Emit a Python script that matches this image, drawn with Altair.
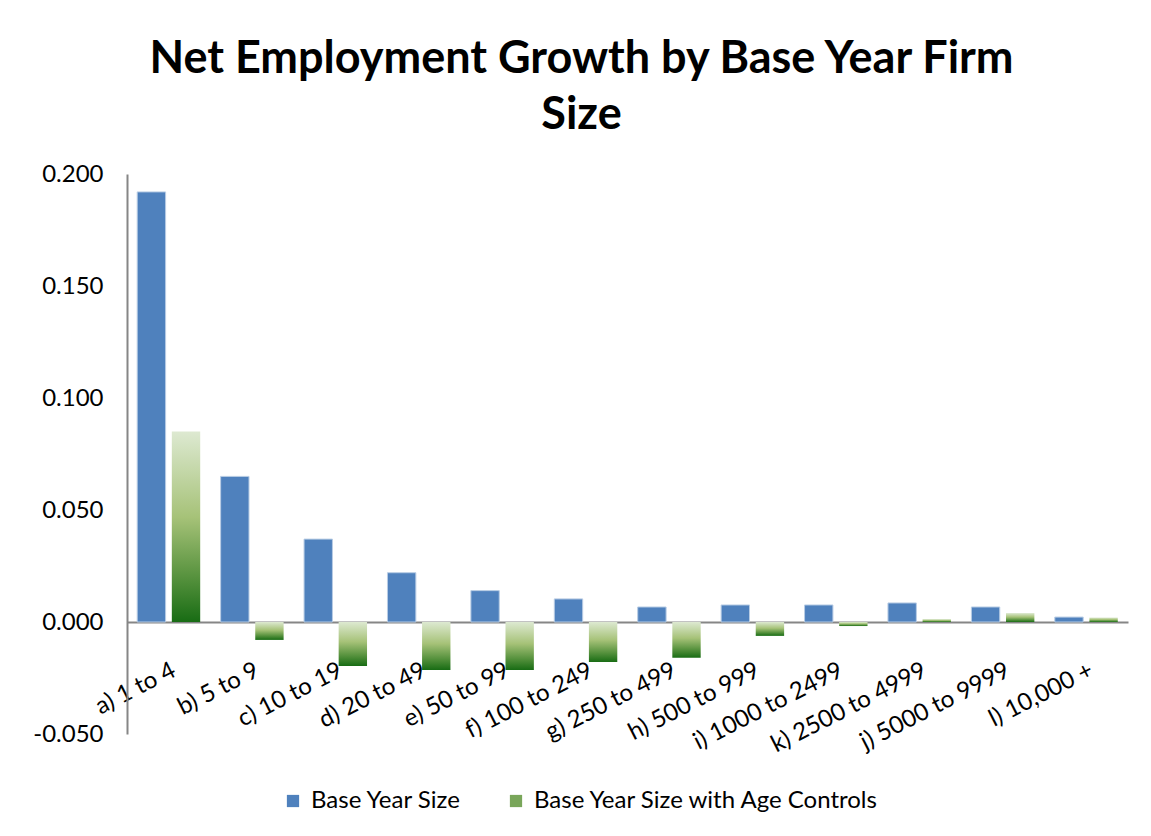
import altair as alt
import pandas as pd

categories = ["a) 1 to 4", "b) 5 to 9", "c) 10 to 19", "d) 20 to 49", "e) 50 to 99",
              "f) 100 to 249", "g) 250 to 499", "h) 500 to 999", "i) 1000 to 2499",
              "k) 2500 to 4999", "j) 5000 to 9999", "l) 10,000 +"]
base_year = [0.192, 0.065, 0.037, 0.022, 0.014, 0.0103, 0.0067, 0.0076, 0.0076, 0.0085, 0.0067, 0.0022]
with_age = [0.085, -0.008, -0.0196, -0.0214, -0.0214, -0.0179, -0.016, -0.0062, -0.0018, 0.0013, 0.004, 0.002]
series = ["Base Year Size", "Base Year Size with Age Controls"]
y_ticks = [-0.05, 0.0, 0.05, 0.1, 0.15, 0.2]

rows = []
for c, v in zip(categories, base_year):
    rows.append({"cat": c, "series": series[0], "value": v})
for c, v in zip(categories, with_age):
    rows.append({"cat": c, "series": series[1], "value": v})
df = pd.DataFrame(rows)

FONT = "Lato"

x_enc = alt.X("cat:N", sort=categories, title=None,
              scale=alt.Scale(paddingInner=0.245, paddingOuter=0.1225),
              axis=alt.Axis(orient="bottom", offset=-112, labelAngle=-27, labelAlign="right",
                            labelBaseline="top", labelFontSize=24, labelColor="black",
                            labelFont=FONT, labelPadding=36, ticks=False, domainColor="#868686",
                            domainWidth=2, labelOverlap=False, labelFlush=False))
xoff = alt.XOffset("series:N", sort=series,
                   scale=alt.Scale(domain=series, paddingInner=0.18, paddingOuter=0))
y_enc = alt.Y("value:Q", title=None,
              scale=alt.Scale(domain=[-0.05, 0.2], nice=False, zero=False),
              axis=alt.Axis(values=y_ticks, grid=False, ticks=False,
                            labelExpr="datum.value < 0 ? '-' + format(-datum.value, '.3f') : format(datum.value, '.3f')",
                            labelFontSize=24, labelColor="black", labelFont=FONT,
                            labelPadding=24, domainColor="#868686", domainWidth=2))

blue = alt.Chart(df).transform_filter(alt.datum.series == series[0]).mark_bar(
    stroke="#b8cce4", strokeWidth=1
).encode(
    x=x_enc, xOffset=xoff, y=y_enc,
    color=alt.Color("series:N", scale=alt.Scale(domain=series, range=["#4f81bd", "#79a65a"]),
                    legend=alt.Legend(title=None, orient="none", legendX=154, legendY=615,
                                      direction="horizontal", symbolType="square",
                                      symbolSize=150, symbolStrokeWidth=0,
                                      labelFontSize=24, labelFont=FONT, labelColor="black",
                                      columnPadding=42, labelOffset=6, labelLimit=500))
)

grad = alt.Gradient(
    gradient="linear",
    stops=[alt.GradientStop(color="#dde9d1", offset=0),
           alt.GradientStop(color="#a6c278", offset=0.45),
           alt.GradientStop(color="#5a9440", offset=0.75),
           alt.GradientStop(color="#186c14", offset=1)],
    x1=0, x2=0, y1=0, y2=1)

green = alt.Chart(df).transform_filter(alt.datum.series == series[1]).mark_bar(
    fill=grad
).encode(x=x_enc, xOffset=xoff, y=y_enc)

chart = alt.layer(blue, green).properties(
    width=1001, height=560,
    title=alt.TitleParams(["Net Employment Growth by Base Year Firm", "Size"],
                          font=FONT, fontSize=45, fontWeight="bold", color="black",
                          anchor="middle", dx=-46, offset=24, lineHeight=56),
    autosize=alt.AutoSizeParams(type="none"),
    padding={"left": 127, "top": 174, "right": 23, "bottom": 102},
).configure(background="white").configure_view(stroke=None)

chart.save("out.html", embed_options={"renderer": "svg", "actions": False})
